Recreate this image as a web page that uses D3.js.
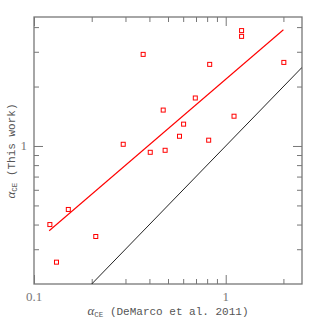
<!DOCTYPE html>
<html>
<head>
<meta charset="utf-8">
<script src="https://cdn.jsdelivr.net/npm/d3@7"></script>
<style>
  body { margin: 0; background: #fff; }
  text { font-family: "Liberation Mono", monospace; fill: #555; }
  .tick-label { font-family: "Liberation Serif", serif; fill: #777; }
</style>
</head>
<body>
<svg id="chart" width="319" height="319"></svg>
<script>
// alpha_CE values: DeMarco et al. 2011 (x) vs this work (y)
const alphaDeMarco = [0.121, 0.131, 0.151, 0.21, 0.292, 0.371, 0.404, 0.472, 0.483,
                      0.574, 0.603, 0.694, 0.815, 0.825, 1.105, 1.21, 1.21, 2.01];
const alphaThisWork = [0.40, 0.258, 0.477, 0.348, 1.02, 2.91, 0.929, 1.52, 0.951,
                       1.12, 1.29, 1.75, 1.07, 2.59, 1.415, 3.84, 3.59, 2.65];

// power-law fit (red) and one-to-one line (black)
const fitX = [0.12, 2.0];
const fitY = [0.372, 3.88];
const oneToOne = [0.1, 2.5];

const xMajor = [0.1, 1];
const xMinor = [0.2, 0.3, 0.4, 0.5, 0.6, 0.7, 0.8, 0.9, 2];
const yMajor = [1];
const yMinor = [0.3, 0.4, 0.5, 0.6, 0.7, 0.8, 0.9, 2, 3, 4];

const width = 319, height = 319;
const margin = {top: 17, right: 17, bottom: 35, left: 34};

const svg = d3.select('#chart');

const x = d3.scaleLog()
    .domain([0.1, 2.5])
    .range([margin.left, width - margin.right]);

const y = d3.scaleLog()
    .domain([0.2, 4.5])
    .range([height - margin.bottom, margin.top]);

const axisColor = '#777';

function ticks(g, axis, vals, size) {
    g.call(axis.tickValues(vals).tickSize(size).tickSizeOuter(0).tickFormat(''));
    g.select('.domain').remove();
    g.selectAll('line').attr('stroke', axisColor);
}

// bottom / top
svg.append('g').attr('transform', `translate(0,${height - margin.bottom})`)
    .call(g => ticks(g, d3.axisTop(x), xMajor, 9));
svg.append('g').attr('transform', `translate(0,${height - margin.bottom})`)
    .call(g => ticks(g, d3.axisTop(x), xMinor, 5));
svg.append('g').attr('transform', `translate(0,${margin.top})`)
    .call(g => ticks(g, d3.axisBottom(x), xMajor, 9));
svg.append('g').attr('transform', `translate(0,${margin.top})`)
    .call(g => ticks(g, d3.axisBottom(x), xMinor, 5));
// left / right
svg.append('g').attr('transform', `translate(${margin.left},0)`)
    .call(g => ticks(g, d3.axisRight(y), yMajor, 9));
svg.append('g').attr('transform', `translate(${margin.left},0)`)
    .call(g => ticks(g, d3.axisRight(y), yMinor, 5));
svg.append('g').attr('transform', `translate(${width - margin.right},0)`)
    .call(g => ticks(g, d3.axisLeft(y), yMajor, 9));
svg.append('g').attr('transform', `translate(${width - margin.right},0)`)
    .call(g => ticks(g, d3.axisLeft(y), yMinor, 5));

// frame
svg.append('rect')
    .attr('x', margin.left).attr('y', margin.top)
    .attr('width', width - margin.left - margin.right)
    .attr('height', height - margin.top - margin.bottom)
    .attr('fill', 'none').attr('stroke', axisColor).attr('stroke-width', 1.3);

// tick labels
svg.append('g').selectAll('text')
    .data(xMajor).enter().append('text')
    .attr('class', 'tick-label')
    .attr('x', d => x(d))
    .attr('y', 301)
    .attr('text-anchor', 'middle')
    .attr('font-size', 13)
    .text(d => d);

svg.append('g').selectAll('text')
    .data(yMajor).enter().append('text')
    .attr('class', 'tick-label')
    .attr('x', margin.left - 7)
    .attr('y', d => y(d) + 4)
    .attr('text-anchor', 'end')
    .attr('font-size', 13)
    .text(d => d);

// axis titles
const xt = svg.append('text')
    .attr('x', 168).attr('y', 315)
    .attr('text-anchor', 'middle')
    .attr('font-size', 11);
xt.append('tspan').attr('font-family', 'Liberation Serif').attr('font-style', 'italic')
    .attr('font-size', 13).text('α');
xt.append('tspan').attr('font-size', 7.5).attr('dy', 2).text('CE');
xt.append('tspan').attr('dy', -2).text(' (DeMarco et al. 2011)');

const yt = svg.append('text')
    .attr('transform', 'translate(15,151) rotate(-90)')
    .attr('text-anchor', 'middle')
    .attr('font-size', 11);
yt.append('tspan').attr('font-family', 'Liberation Serif').attr('font-style', 'italic')
    .attr('font-size', 13).text('α');
yt.append('tspan').attr('font-size', 7.5).attr('dy', 2).text('CE');
yt.append('tspan').attr('dy', -2).text(' (This work)');

// clip to frame
svg.append('clipPath').attr('id', 'clip')
    .append('rect')
    .attr('x', margin.left).attr('y', margin.top)
    .attr('width', width - margin.left - margin.right)
    .attr('height', height - margin.top - margin.bottom);

const line = d3.line().x(d => x(d[0])).y(d => y(d[1]));

svg.append('path')
    .attr('clip-path', 'url(#clip)')
    .attr('d', line(oneToOne.map(v => [v, v])))
    .attr('fill', 'none').attr('stroke', '#222').attr('stroke-width', 1);

svg.append('path')
    .attr('d', line(fitX.map((v, i) => [v, fitY[i]])))
    .attr('fill', 'none').attr('stroke', '#f00').attr('stroke-width', 1.1);

// data squares
svg.append('g').selectAll('rect')
    .data(alphaDeMarco).enter().append('rect')
    .attr('x', (d, i) => x(d) - 2)
    .attr('y', (d, i) => y(alphaThisWork[i]) - 2)
    .attr('width', 4).attr('height', 4)
    .attr('fill', 'none').attr('stroke', '#f00').attr('stroke-width', 1);
</script>
</body>
</html>
